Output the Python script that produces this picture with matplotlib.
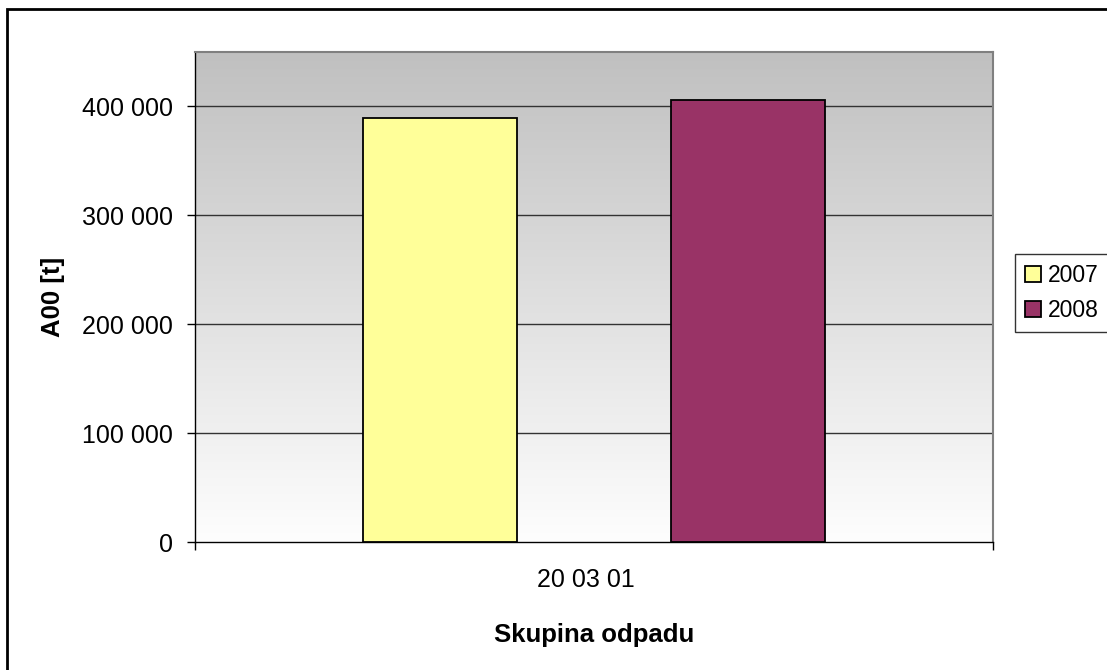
import numpy as np
from matplotlib import pyplot as plt
from matplotlib.patches import Rectangle

# data
category = '20 03 01'
years = ['2007', '2008']
values = [389000, 405500]
colors = ['#ffff99', '#993366']
y_ticks = [0, 100000, 200000, 300000, 400000]

plt.rcParams['font.family'] = ['Liberation Sans', 'DejaVu Sans']

fig = plt.figure(figsize=(11.07, 6.70), dpi=100)
ax = fig.add_axes([195 / 1107, 1 - 542 / 670, 798 / 1107, 490 / 670])

# grey to white gradient behind the bars
grad = np.linspace(192, 254, 256).reshape(-1, 1) / 255
ax.imshow(np.dstack([grad, grad, grad]), extent=[-0.5, 0.5, 0, 450000],
          aspect='auto', origin='upper', zorder=0)

offsets = [-0.193, 0.193]
for off, v, c, yr in zip(offsets, values, colors, years):
    ax.bar(off, v, width=0.193, color=c, edgecolor='black', linewidth=1.3,
           zorder=3, label=yr)

ax.set_xlim(-0.5, 0.5)
ax.set_ylim(0, 450000)
ax.set_yticks(y_ticks)
ax.set_yticklabels([f'{t:,}'.replace(',', ' ') for t in y_ticks], fontsize=18)
for t in y_ticks[1:]:
    ax.axhline(t, color='#333333', linewidth=1, zorder=1)

ax.set_xticks([-0.5, 0.5])
ax.set_xticklabels(['', ''])
ax.tick_params(axis='x', length=6, width=1, direction='out')
ax.tick_params(axis='y', length=6, width=1, direction='out', pad=10)
ax.text(-0.01, -0.077, category, transform=ax.get_xaxis_transform(),
        ha='center', va='center', fontsize=18)

ax.text(0, -0.19, 'Skupina odpadu', transform=ax.get_xaxis_transform(),
        ha='center', va='center', fontsize=18.5, fontweight='bold')
ax.set_ylabel('A00 [t]', fontsize=18.5, fontweight='bold', labelpad=12)

for side in ['top', 'right']:
    ax.spines[side].set_color('#808080')
    ax.spines[side].set_linewidth(1.5)
for side in ['left', 'bottom']:
    ax.spines[side].set_color('black')
    ax.spines[side].set_linewidth(1)

leg = fig.legend(loc='upper left', bbox_to_anchor=(1015 / 1107, 1 - 254 / 670),
                 fontsize=16.5, frameon=True, fancybox=False, handlelength=0.7,
                 handleheight=0.7, handletextpad=0.3, borderpad=0.45,
                 labelspacing=0.5, borderaxespad=0)
leg.get_frame().set_edgecolor('black')
leg.get_frame().set_linewidth(1)

# outer chart frame
fig.patches.append(Rectangle((7 / 1107, -0.1), 1.2, 1 - 9 / 670 + 0.1,
                             transform=fig.transFigure, fill=False,
                             edgecolor='black', linewidth=2))

fig.savefig('out.png', dpi=100)
